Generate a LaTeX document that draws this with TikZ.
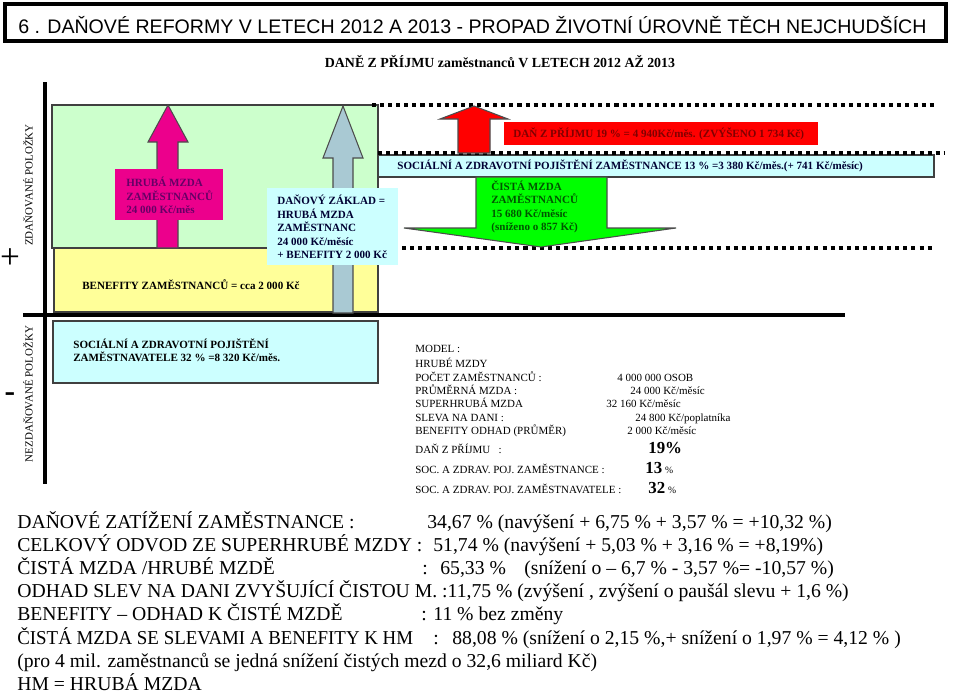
\documentclass[tikz,border=0pt]{standalone}
\usepackage{fontspec}
\setmainfont{Liberation Serif}
\newfontfamily\arialfont{Liberation Sans}
\usetikzlibrary{positioning}
\definecolor{mzdagreen}{HTML}{CCFFCC}
\definecolor{benefyellow}{HTML}{FFFF99}
\definecolor{pojcyan}{HTML}{CCFFFF}
\definecolor{zakladblue}{HTML}{A9C9D3}
\definecolor{mzdapurple}{HTML}{660066}
\definecolor{danred}{HTML}{800000}
\definecolor{cistagreen}{HTML}{005500}
\definecolor{textnavy}{HTML}{000033}

\begin{document}
\begin{tikzpicture}[
    x=0.02cm, y=-0.02cm,
    boxtxt/.style={font=\fontsize{6.3}{7.65}\selectfont\bfseries, align=left, inner sep=0pt, anchor=west},
    modeltxt/.style={font=\fontsize{6.25}{7.5}\selectfont, inner sep=0pt, anchor=base west},
    bignum/.style={font=\fontsize{9.6}{10}\selectfont\bfseries, inner sep=0pt, anchor=base west},
    bottomtxt/.style={font=\fontsize{11.2}{13}\selectfont, inner sep=0pt, anchor=base west},
    axislab/.style={font=\fontsize{6.25}{7.5}\selectfont, inner sep=0pt, rotate=90},
    region/.style={draw=black!75, line width=0.6pt},
    dotline/.style={line width=2.3pt, dash pattern=on 2.3pt off 2.3pt},
    blockarrow/.style={draw=black!70, line width=0.6pt},
    axisline/.style={line width=2.3pt}
  ]
    \useasboundingbox (0,0) rectangle (960,694);

    % title
    \draw[line width=2.3pt] (5,4) rectangle (946,41);
    \node[inner sep=0pt, anchor=base west, font=\arialfont\fontsize{11.15}{12}\selectfont] (title) at (18,33)
      {6 . DAŇOVÉ REFORMY V LETECH 2012 A 2013 - PROPAD ŽIVOTNÍ ÚROVNĚ TĚCH NEJCHUDŠÍCH};
    \node[inner sep=0pt, font=\fontsize{7.9}{9}\selectfont\bfseries] (subtitle) at (500,62)
      {DANĚ Z PŘÍJMU zaměstnanců V LETECH 2012 AŽ 2013};

    % regions
    \draw[region, fill=mzdagreen] (52,105) rectangle (378,248);
    \draw[region, fill=benefyellow] (54,248) rectangle (378,312);
    \draw[region, fill=pojcyan] (53,321) rectangle (378,383);
    \draw[region, fill=pojcyan] (378,155) rectangle (934,177);

    % axes
    \draw[axisline] (45,82) -- (45,484);
    \draw[axisline] (23,315) -- (845,315);

    % dotted levels
    \draw[dotline] (372,105) -- (937,105);
    \draw[dotline] (378,153) -- (945,153);
    \draw[dotline] (378,248) -- (935,248);

    % block arrows
    \draw[blockarrow, fill=magenta] (157,248) -- (157,142) -- (148,142) -- (168,105)
      -- (188,142) -- (178,142) -- (178,248) -- cycle;
    \draw[blockarrow, fill=zakladblue] (333,313) -- (333,158) -- (323,158) -- (343,106)
      -- (363,158) -- (353,158) -- (353,313) -- cycle;
    \draw[blockarrow, fill=red] (458,153) -- (458,119) -- (440,119) -- (474,106)
      -- (508,119) -- (490,119) -- (490,153) -- cycle;
    \draw[blockarrow, fill=green] (476,177) -- (476,228) -- (404,228) -- (541,247)
      -- (676,228) -- (607,228) -- (607,177) -- cycle;

    % label boxes
    \fill[magenta] (115,169) rectangle (223,220);
    \fill[pojcyan] (267,188) rectangle (398,265);
    \fill[red] (504,122) rectangle (818,145);

    \node[boxtxt, text=mzdapurple] (hruba) at (126,195.5)
      {HRUBÁ MZDA\\ZAMĚSTNANCŮ\\24 000 Kč/měs};
    \node[boxtxt, text=textnavy] (zaklad) at (277,227)
      {DAŇOVÝ ZÁKLAD =\\HRUBÁ MZDA\\ZAMĚSTNANC\\24 000 Kč/měsíc\\+ BENEFITY 2 000 Kč};
    \node[boxtxt, text=danred] (dan) at (513,133.5)
      {DAŇ Z PŘÍJMU 19 \% = 4 940Kč/měs. (ZVÝŠENO 1 734 Kč)};
    \node[boxtxt, text=textnavy] (soczam) at (397,166)
      {SOCIÁLNÍ A ZDRAVOTNÍ POJIŠTĚNÍ ZAMĚSTNANCE 13 \% =3 380 Kč/měs.(+ 741 Kč/měsíc)};
    \node[boxtxt, text=cistagreen] (cista) at (491,207)
      {ČISTÁ MZDA\\ZAMĚSTNANCŮ\\15 680 Kč/měsíc\\(sníženo o 857 Kč)};
    \node[boxtxt] (benefity) at (82,285) {BENEFITY ZAMĚSTNANCŮ = cca 2 000 Kč};
    \node[boxtxt] (soczav) at (73,350)
      {SOCIÁLNÍ A ZDRAVOTNÍ POJIŠTĚNÍ\\ZAMĚSTNAVATELE 32 \% =8 320 Kč/měs.};

    % axis labels
    \node[axislab] (zdan) at (28,185) {ZDAŇOVANÉ POLOŽKY};
    \node[axislab] (nezdan) at (28,394) {NEZDAŇOVANÉ POLOŽKY};
    \node[inner sep=0pt, font=\fontsize{20}{20}\selectfont] (plus) at (10,259) {+};
    \node[inner sep=0pt, font=\fontsize{18}{18}\selectfont\bfseries] (minus) at (10,397) {-};

    % model
    \node[modeltxt] (m0) at (415,352) {MODEL :};
    \node[modeltxt] (m1) at (415,367) {HRUBÉ MZDY};
    \node[modeltxt] (m2) at (415,381) {POČET ZAMĚSTNANCŮ :};
    \node[modeltxt] (m3) at (415,394) {PRŮMĚRNÁ MZDA :};
    \node[modeltxt] (m4) at (415,407) {SUPERHRUBÁ MZDA};
    \node[modeltxt] (m5) at (415,421) {SLEVA NA DANI :};
    \node[modeltxt] (m6) at (415,434) {BENEFITY ODHAD (PRŮMĚR)};
    \node[modeltxt] (m7) at (415,453) {DAŇ Z PŘÍJMU \ \ :};
    \node[modeltxt] (m8) at (415,473) {SOC. A ZDRAV. POJ. ZAMĚSTNANCE :};
    \node[modeltxt] (m9) at (415,493) {SOC. A ZDRAV. POJ. ZAMĚSTNAVATELE :};
    \node[modeltxt] (v2) at (617,381) {4 000 000 OSOB};
    \node[modeltxt] (v3) at (630,394) {24 000 Kč/měsíc};
    \node[modeltxt] (v4) at (606,407) {32 160 Kč/měsíc};
    \node[modeltxt] (v5) at (635,421) {24 800 Kč/poplatníka};
    \node[modeltxt] (v6) at (627,434) {2 000 Kč/měsíc};
    \node[bignum] (v7) at (648,453) {19\%};
    \node[bignum] (v8) at (645,473) {13\,{\mdseries\fontsize{5.5}{6}\selectfont\%}};
    \node[bignum] (v9) at (648,493) {32\,{\mdseries\fontsize{5.5}{6}\selectfont\%}};

    % summary
    \node[bottomtxt] (s1) at (17,528) {DAŇOVÉ ZATÍŽENÍ ZAMĚSTNANCE :};
    \node[bottomtxt] (s1v) at (427,528) {34,67 \% (navýšení + 6,75 \% + 3,57 \% = +10,32 \%)};
    \node[bottomtxt] (s2) at (17,551) {CELKOVÝ ODVOD ZE SUPERHRUBÉ MZDY :};
    \node[bottomtxt] (s2v) at (433,551) {51,74 \% (navýšení + 5,03 \% + 3,16 \% = +8,19\%)};
    \node[bottomtxt] (s3) at (17,574) {ČISTÁ MZDA /HRUBÉ MZDĚ};
    \node[bottomtxt] (s3c) at (422,574) {:};
    \node[bottomtxt] (s3v) at (440,574) {65,33 \%};
    \node[bottomtxt] (s3w) at (524,574) {(snížení o – 6,7 \% - 3,57 \%= -10,57 \%)};
    \node[bottomtxt] (s4) at (17,597) {ODHAD SLEV NA DANI ZVYŠUJÍCÍ ČISTOU M. :11,75 \% (zvýšení , zvýšení o paušál slevu + 1,6 \%)};
    \node[bottomtxt] (s5) at (17,620) {BENEFITY – ODHAD K ČISTÉ MZDĚ};
    \node[bottomtxt] (s5v) at (421,620) {: 11 \% bez změny};
    \node[bottomtxt] (s6) at (17,644) {\scalebox{0.96}[1]{ČISTÁ MZDA SE SLEVAMI A BENEFITY K HM}};
    \node[bottomtxt] (s6c) at (433,644) {:};
    \node[bottomtxt] (s6v) at (452,644) {88,08 \% (snížení o 2,15 \%,+ snížení o 1,97 \% = 4,12 \% )};
    \node[bottomtxt] (s7) at (17,667) {(pro 4 mil. zaměstnanců se jedná snížení čistých mezd o 32,6 miliard Kč)};
    \node[bottomtxt] (s8) at (17,690) {HM = HRUBÁ MZDA};
  \end{tikzpicture}
\end{document}
